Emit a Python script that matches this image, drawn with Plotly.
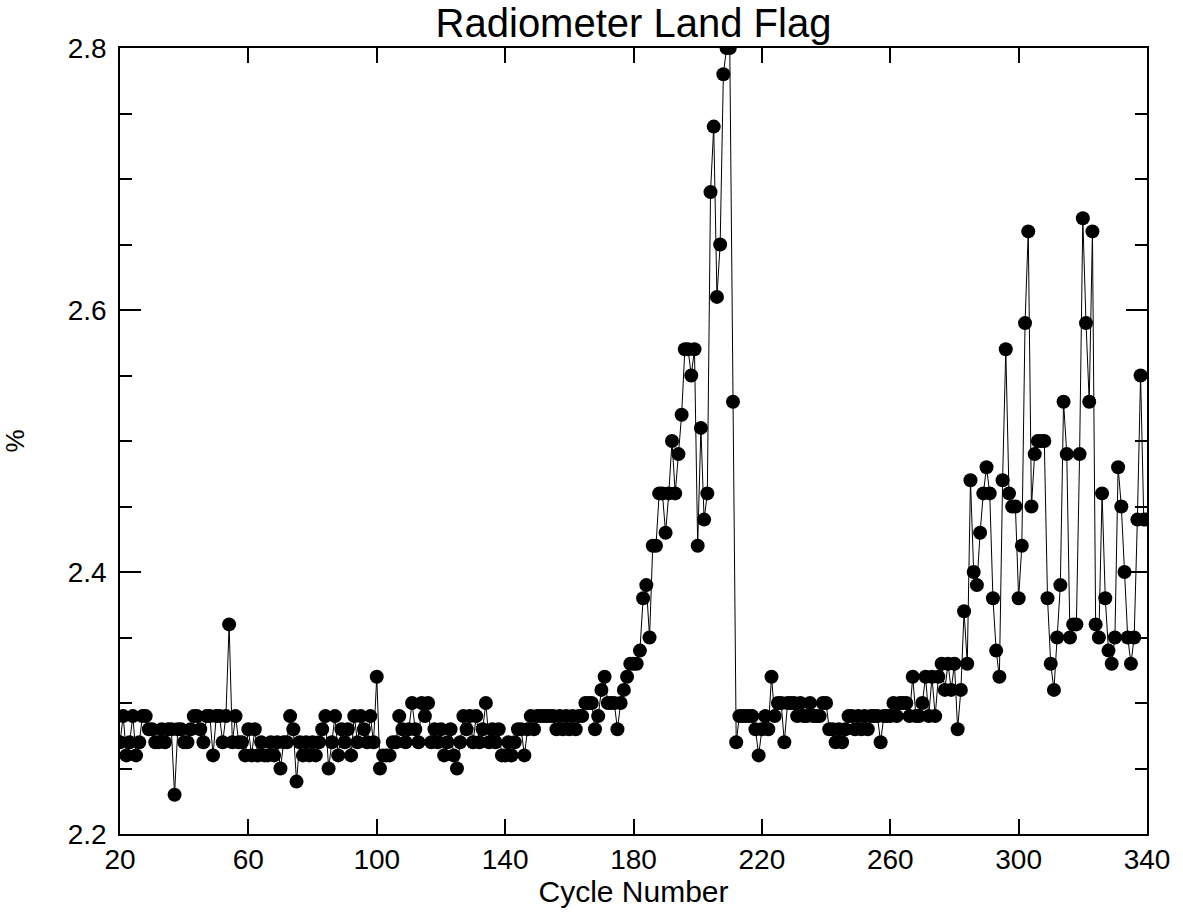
import plotly.graph_objects as go

cycles = list(range(20, 341))

land_flag_pct = [
    # 20-59
    2.27, 2.29, 2.26, 2.27, 2.29, 2.26, 2.27, 2.29, 2.29, 2.28,
    2.28, 2.27, 2.27, 2.28, 2.27, 2.28, 2.28, 2.23, 2.28, 2.28,
    2.27, 2.27, 2.28, 2.29, 2.29, 2.28, 2.27, 2.29, 2.29, 2.26,
    2.29, 2.29, 2.27, 2.29, 2.36, 2.27, 2.29, 2.27, 2.27, 2.26,
    # 60-99
    2.28, 2.26, 2.28, 2.26, 2.27, 2.26, 2.26, 2.27, 2.26, 2.27,
    2.25, 2.27, 2.27, 2.29, 2.28, 2.24, 2.27, 2.26, 2.27, 2.26,
    2.27, 2.26, 2.27, 2.28, 2.29, 2.25, 2.27, 2.29, 2.26, 2.28,
    2.27, 2.28, 2.26, 2.29, 2.27, 2.29, 2.28, 2.27, 2.29, 2.27,
    # 100-139
    2.32, 2.25, 2.26, 2.26, 2.26, 2.27, 2.27, 2.29, 2.28, 2.27,
    2.28, 2.30, 2.28, 2.27, 2.30, 2.29, 2.30, 2.27, 2.28, 2.27,
    2.28, 2.26, 2.27, 2.28, 2.26, 2.25, 2.27, 2.29, 2.28, 2.29,
    2.27, 2.29, 2.27, 2.28, 2.30, 2.27, 2.28, 2.27, 2.28, 2.26,
    # 140-179
    2.26, 2.27, 2.26, 2.27, 2.28, 2.28, 2.26, 2.28, 2.29, 2.28,
    2.29, 2.29, 2.29, 2.29, 2.29, 2.29, 2.28, 2.29, 2.28, 2.29,
    2.28, 2.29, 2.28, 2.29, 2.29, 2.30, 2.30, 2.30, 2.28, 2.29,
    2.31, 2.32, 2.30, 2.30, 2.30, 2.28, 2.30, 2.31, 2.32, 2.33,
    # 180-219
    2.33, 2.33, 2.34, 2.38, 2.39, 2.35, 2.42, 2.42, 2.46, 2.46,
    2.43, 2.46, 2.50, 2.46, 2.49, 2.52, 2.57, 2.57, 2.55, 2.57,
    2.42, 2.51, 2.44, 2.46, 2.69, 2.74, 2.61, 2.65, 2.78, 2.80,
    2.80, 2.53, 2.27, 2.29, 2.29, 2.29, 2.29, 2.29, 2.28, 2.26,
    # 220-259
    2.28, 2.29, 2.28, 2.32, 2.29, 2.30, 2.30, 2.27, 2.30, 2.30,
    2.30, 2.29, 2.30, 2.29, 2.29, 2.30, 2.29, 2.29, 2.29, 2.30,
    2.30, 2.28, 2.28, 2.27, 2.28, 2.27, 2.28, 2.29, 2.29, 2.28,
    2.29, 2.28, 2.29, 2.28, 2.29, 2.29, 2.29, 2.27, 2.29, 2.29,
    # 260-299
    2.29, 2.30, 2.29, 2.30, 2.30, 2.30, 2.29, 2.32, 2.29, 2.29,
    2.30, 2.32, 2.29, 2.32, 2.29, 2.32, 2.33, 2.31, 2.33, 2.31,
    2.33, 2.28, 2.31, 2.37, 2.33, 2.47, 2.40, 2.39, 2.43, 2.46,
    2.48, 2.46, 2.38, 2.34, 2.32, 2.47, 2.57, 2.46, 2.45, 2.45,
    # 300-340
    2.38, 2.42, 2.59, 2.66, 2.45, 2.49, 2.50, 2.50, 2.50, 2.38,
    2.33, 2.31, 2.35, 2.39, 2.53, 2.49, 2.35, 2.36, 2.36, 2.49,
    2.67, 2.59, 2.53, 2.66, 2.36, 2.35, 2.46, 2.38, 2.34, 2.33,
    2.35, 2.48, 2.45, 2.40, 2.35, 2.33, 2.35, 2.44, 2.55, 2.44,
    2.44,
]

x_ticks = [20, 60, 100, 140, 180, 220, 260, 300, 340]
y_ticks = [2.2, 2.4, 2.6, 2.8]

title_text = "Radiometer Land Flag"
x_title = "Cycle Number"
y_title = "%"

FONT = "Liberation Sans, Arial, Helvetica, sans-serif"

fig = go.Figure()
fig.add_trace(go.Scatter(
    x=cycles, y=land_flag_pct,
    mode="lines+markers",
    line=dict(color="black", width=1),
    marker=dict(color="black", size=14, symbol="circle", line=dict(width=0)),
    showlegend=False,
))

fig.update_layout(
    width=1183, height=915,
    margin=dict(l=120, r=36, t=48, b=81),
    paper_bgcolor="white", plot_bgcolor="white",
    font=dict(family=FONT, color="black", size=28),
    title=dict(text=title_text, x=0.5, xref="paper", xanchor="center",
               y=1 - 23 / 915, yref="container", yanchor="middle",
               font=dict(family=FONT, size=40, color="black")),
)

fig.update_xaxes(
    range=[20, 340], tickmode="array", tickvals=x_ticks,
    ticktext=[str(v) for v in x_ticks],
    ticks="inside", ticklen=15, tickwidth=1.5, tickcolor="black",
    showline=True, linewidth=1.5, linecolor="black", mirror="ticks",
    showgrid=False, zeroline=False,
    tickfont=dict(size=28),
    title=dict(text=x_title, font=dict(size=30), standoff=4),
)

fig.update_yaxes(
    range=[2.2, 2.8], tickmode="array", tickvals=y_ticks,
    ticktext=[f"{v:.1f}" for v in y_ticks],
    ticks="inside", ticklen=21, tickwidth=1.5, tickcolor="black",
    minor=dict(dtick=0.05, tick0=2.2, ticks="inside", ticklen=12,
               tickwidth=1.5, tickcolor="black", showgrid=False),
    showline=True, linewidth=1.5, linecolor="black", mirror="ticks",
    showgrid=False, zeroline=False,
    tickfont=dict(size=28), ticklabelstandoff=6,
    title=dict(text=y_title, font=dict(size=26), standoff=36),
)

fig.write_html("out.html")
